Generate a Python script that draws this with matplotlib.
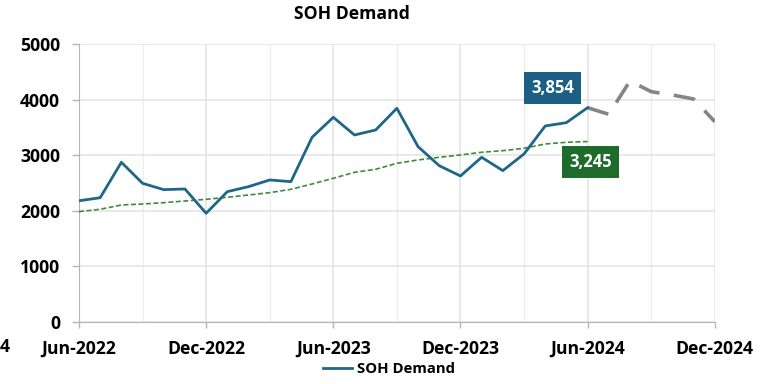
import matplotlib
matplotlib.use("Agg")
import matplotlib.pyplot as plt
from matplotlib.ticker import MultipleLocator

plt.rcParams['font.family'] = ['Open Sans', 'DejaVu Sans']

# monthly values, Jun-2022 .. Jun-2024
demand = [2180, 2235, 2872, 2494, 2380, 2392, 1955, 2344, 2434, 2554, 2524, 3322,
          3681, 3363, 3453, 3843, 3153, 2811, 2626, 2962, 2722, 3022, 3525, 3585, 3854]
# trend, Jun-2022 .. Jun-2024
trend = [1985, 2027, 2104, 2122, 2146, 2176, 2206, 2243, 2284, 2326, 2386, 2482,
         2584, 2692, 2746, 2854, 2914, 2962, 3004, 3052, 3081, 3124, 3201, 3232, 3245]
# forecast, Jun-2024 .. Dec-2024
forecast = [3854, 3735, 4335, 4142, 4083, 4011, 3603]

tick_labels = ['Jun-2022', 'Dec-2022', 'Jun-2023', 'Dec-2023', 'Jun-2024', 'Dec-2024']

blue = '#1f6688'
green = '#3d8b3d'
fs = 12.7

fig = plt.figure(figsize=(7.82, 3.84), dpi=100)
ax = fig.add_axes([0.101, 0.1615, 0.813, 0.724])

x_hist = list(range(len(demand)))
x_fc = list(range(len(demand) - 1, len(demand) - 1 + len(forecast)))

ax.plot(x_hist, trend, color=green, lw=1.2, ls=(0, (3, 1.5)), zorder=3)
ax.plot(x_hist, demand, color=blue, lw=2, label='SOH Demand', zorder=4)
ax.plot(x_fc, forecast, color='#858585', lw=2.6, ls=(0, (6, 4)), zorder=3)

ax.text(22.35, 4209, f"{demand[-1]:,}", color='white', fontsize=12, fontweight='bold',
        ha='center', va='center', zorder=5,
        bbox=dict(boxstyle='square,pad=0.42', fc='#1b5f82', ec='none'))
ax.text(24.14, 2878, f"{trend[-1]:,}", color='white', fontsize=12, fontweight='bold',
        ha='center', va='center', zorder=5,
        bbox=dict(boxstyle='square,pad=0.42', fc='#1e6b2b', ec='none'))

ax.set_xlim(0, 30)
ax.set_ylim(0, 5000)
ax.set_xticks(range(0, 31, 6))
ax.set_xticklabels(tick_labels)
ax.xaxis.set_minor_locator(MultipleLocator(3))
ax.set_yticks(range(0, 5001, 1000))

ax.grid(which='major', color='#e3e3e3', lw=1.1)
ax.grid(which='minor', axis='x', color='#eeeeee', lw=1.0)
ax.set_axisbelow(True)

for s in ['top', 'right']:
    ax.spines[s].set_visible(False)
for s in ['left', 'bottom']:
    ax.spines[s].set_color('#b5b5b5')

ax.tick_params(axis='y', length=5, width=1, color='#b5b5b5', pad=8.5, labelsize=fs)
ax.tick_params(axis='x', which='major', length=4, width=1, color='#b5b5b5', pad=9, labelsize=fs)
ax.tick_params(axis='x', which='minor', length=0)
for lbl in ax.get_xticklabels() + ax.get_yticklabels():
    lbl.set_fontweight('bold')

fig.text(0.45, 0.963, 'SOH Demand', ha='center', va='center', fontsize=fs, fontweight='bold')
fig.text(0.0, 0.096, '4', ha='left', va='center', fontsize=fs, fontweight='bold')

leg = fig.legend(loc='center', bbox_to_anchor=(0.497, 0.038), frameon=False,
                 prop={'weight': 'bold', 'size': 10.7}, handlelength=2.0, handletextpad=0.3)

fig.savefig('out.png', dpi=100)
